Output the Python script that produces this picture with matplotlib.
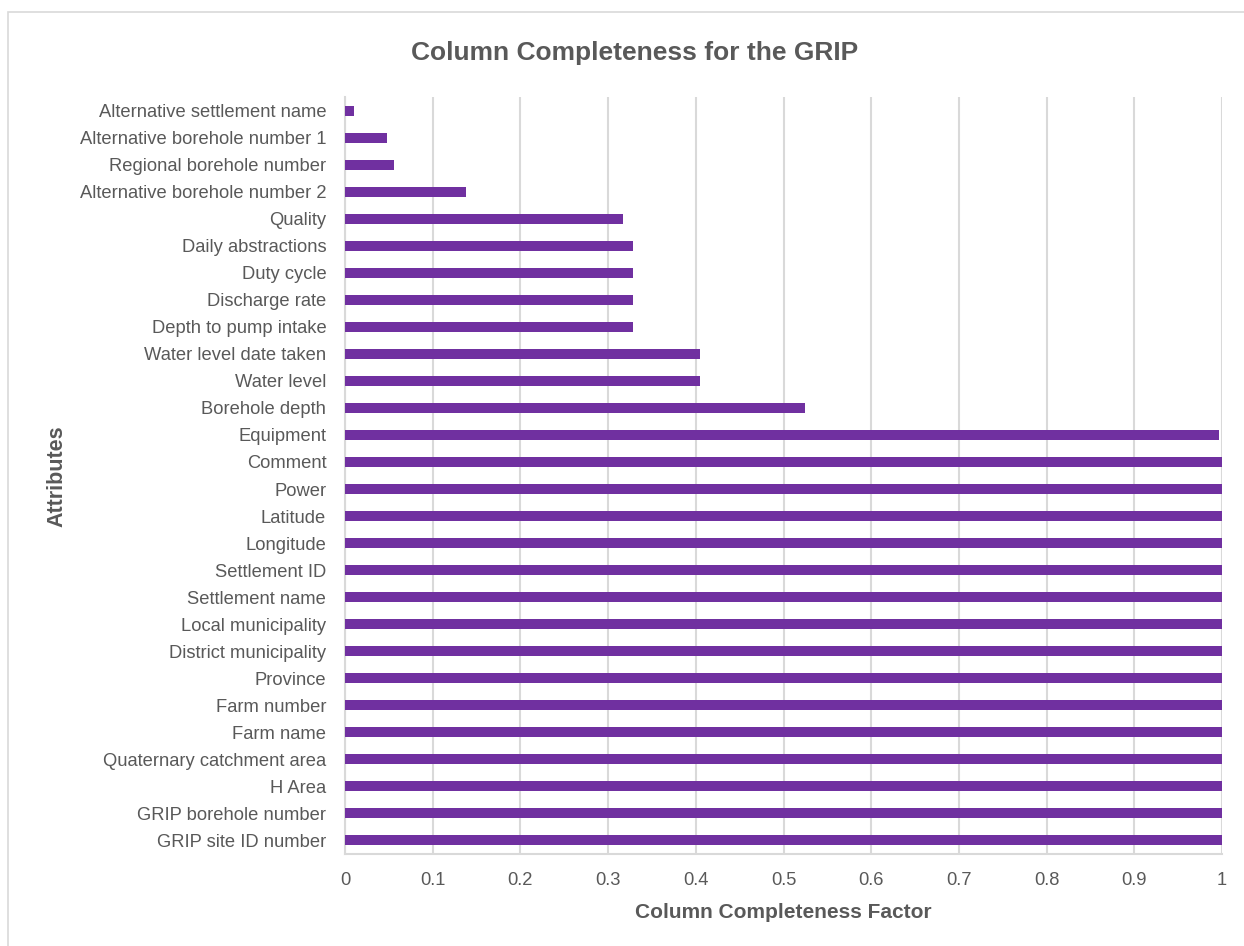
import matplotlib
matplotlib.use("Agg")
import matplotlib.pyplot as plt
from matplotlib.patches import Rectangle

plt.rcParams['font.family'] = ['Liberation Sans', 'DejaVu Sans']

# attributes listed top to bottom
attributes = [
    "Alternative settlement name",
    "Alternative borehole number 1",
    "Regional borehole number",
    "Alternative borehole number 2",
    "Quality",
    "Daily abstractions",
    "Duty cycle",
    "Discharge rate",
    "Depth to pump intake",
    "Water level date taken",
    "Water level",
    "Borehole depth",
    "Equipment",
    "Comment",
    "Power",
    "Latitude",
    "Longitude",
    "Settlement ID",
    "Settlement name",
    "Local municipality",
    "District municipality",
    "Province",
    "Farm number",
    "Farm name",
    "Quaternary catchment area",
    "H Area",
    "GRIP borehole number",
    "GRIP site ID number",
]
completeness = [
    0.010, 0.048, 0.056, 0.138, 0.317, 0.328, 0.328, 0.328, 0.328,
    0.405, 0.405, 0.525, 0.997,
    1, 1, 1, 1, 1, 1, 1, 1, 1, 1, 1, 1, 1, 1, 1,
]
x_ticks = [0, 0.1, 0.2, 0.3, 0.4, 0.5, 0.6, 0.7, 0.8, 0.9, 1]
x_tick_labels = ["0", "0.1", "0.2", "0.3", "0.4", "0.5", "0.6", "0.7", "0.8", "0.9", "1"]

text_grey = "#595959"
grid_grey = "#D9D9D9"
purple = "#7030A0"

fig = plt.figure(figsize=(12.44, 9.46), dpi=100)
ax = fig.add_axes([345 / 1244, 1 - 854 / 946, (1222 - 345) / 1244, (854 - 97) / 946])

# outer chart frame
fig.patches.append(Rectangle((8 / 1244, -0.01), 1.02, 1 - 12 / 946 + 0.01,
                             transform=fig.transFigure, fill=False,
                             edgecolor=grid_grey, linewidth=1.2))

ypos = list(range(len(attributes)))[::-1]
ax.barh(ypos, completeness, height=0.37, color=purple, zorder=3)

ax.set_xlim(0, 1)
ax.set_ylim(-0.5, len(attributes) - 0.5)
ax.set_xticks(x_ticks)
ax.set_xticklabels(x_tick_labels)
ax.set_yticks(ypos)
ax.set_yticklabels(attributes)

ax.grid(axis='x', color=grid_grey, linewidth=1.5, zorder=0)
for side in ['top', 'right']:
    ax.spines[side].set_visible(False)
ax.spines['left'].set_color(grid_grey)
ax.spines['left'].set_linewidth(1.5)
ax.spines['bottom'].set_color(grid_grey)
ax.spines['bottom'].set_linewidth(1.5)
ax.tick_params(axis='both', length=0, labelsize=13.2, colors=text_grey)
ax.tick_params(axis='x', pad=13)
ax.tick_params(axis='y', pad=13.5)

ax.set_xlabel("Column Completeness Factor", fontsize=15, fontweight='bold',
              color=text_grey, labelpad=10)
fig.text(57 / 1244, 1 - 476 / 946, "Attributes", rotation=90, fontsize=15.5,
         fontweight='bold', color=text_grey, ha='center', va='center')
fig.text(635 / 1244, 1 - 53 / 946, "Column Completeness for the GRIP", fontsize=19,
         fontweight='bold', color=text_grey, ha='center', va='center')

fig.savefig("out.png", dpi=100)
